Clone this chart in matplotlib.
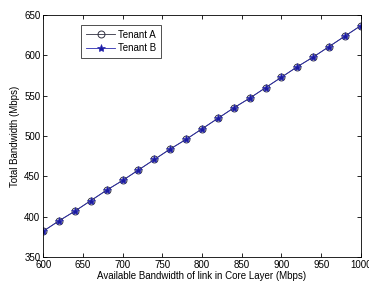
import matplotlib
matplotlib.use("Agg")
import matplotlib.pyplot as plt

plt.rcParams['font.family'] = ['Liberation Sans', 'DejaVu Sans']

bandwidth = [600, 620, 640, 660, 680, 700, 720, 740, 760, 780, 800,
             820, 840, 860, 880, 900, 920, 940, 960, 980, 1000]
tenant_a = [382, 395, 407, 420, 433, 445, 458, 471, 484, 496, 509,
            522, 535, 547, 560, 573, 586, 598, 611, 624, 637]
tenant_b = list(tenant_a)
xticks = [600, 650, 700, 750, 800, 850, 900, 950, 1000]
yticks = [350, 400, 450, 500, 550, 600, 650]

fig = plt.figure(figsize=(3.69, 2.85), dpi=100)
ax = fig.add_axes([0.117, 0.098, 0.861, 0.849])

ax.plot(bandwidth, tenant_a, color='#303040', marker='o', markersize=5,
        markerfacecolor='none', markeredgewidth=0.7, linewidth=0.6, label='Tenant A')
ax.plot(bandwidth, tenant_b, color='#2a2ab0', marker='*', markersize=6,
        markerfacecolor='#1a1aa0', markeredgewidth=0.5, linewidth=0.6, label='Tenant B')

ax.set_xlim(600, 1000)
ax.set_ylim(350, 650)
ax.set_xticks(xticks)
ax.set_yticks(yticks)
ax.tick_params(direction='in', top=True, right=True, labelsize=7, length=3, width=0.6, pad=2)
for s in ax.spines.values():
    s.set_linewidth(0.6)
ax.set_xlabel('Available Bandwidth of link in Core Layer (Mbps)', fontsize=7, labelpad=1)
ax.set_ylabel('Total Bandwidth (Mbps)', fontsize=7, labelpad=3)

leg = ax.legend(loc='upper left', bbox_to_anchor=(0.12, 0.96), fontsize=7,
                frameon=True, fancybox=False, edgecolor='black', handlelength=3,
                borderpad=0.5, labelspacing=0.35, handletextpad=0.3, borderaxespad=0)
leg.get_frame().set_linewidth(0.6)

fig.savefig('out.png', dpi=100)
